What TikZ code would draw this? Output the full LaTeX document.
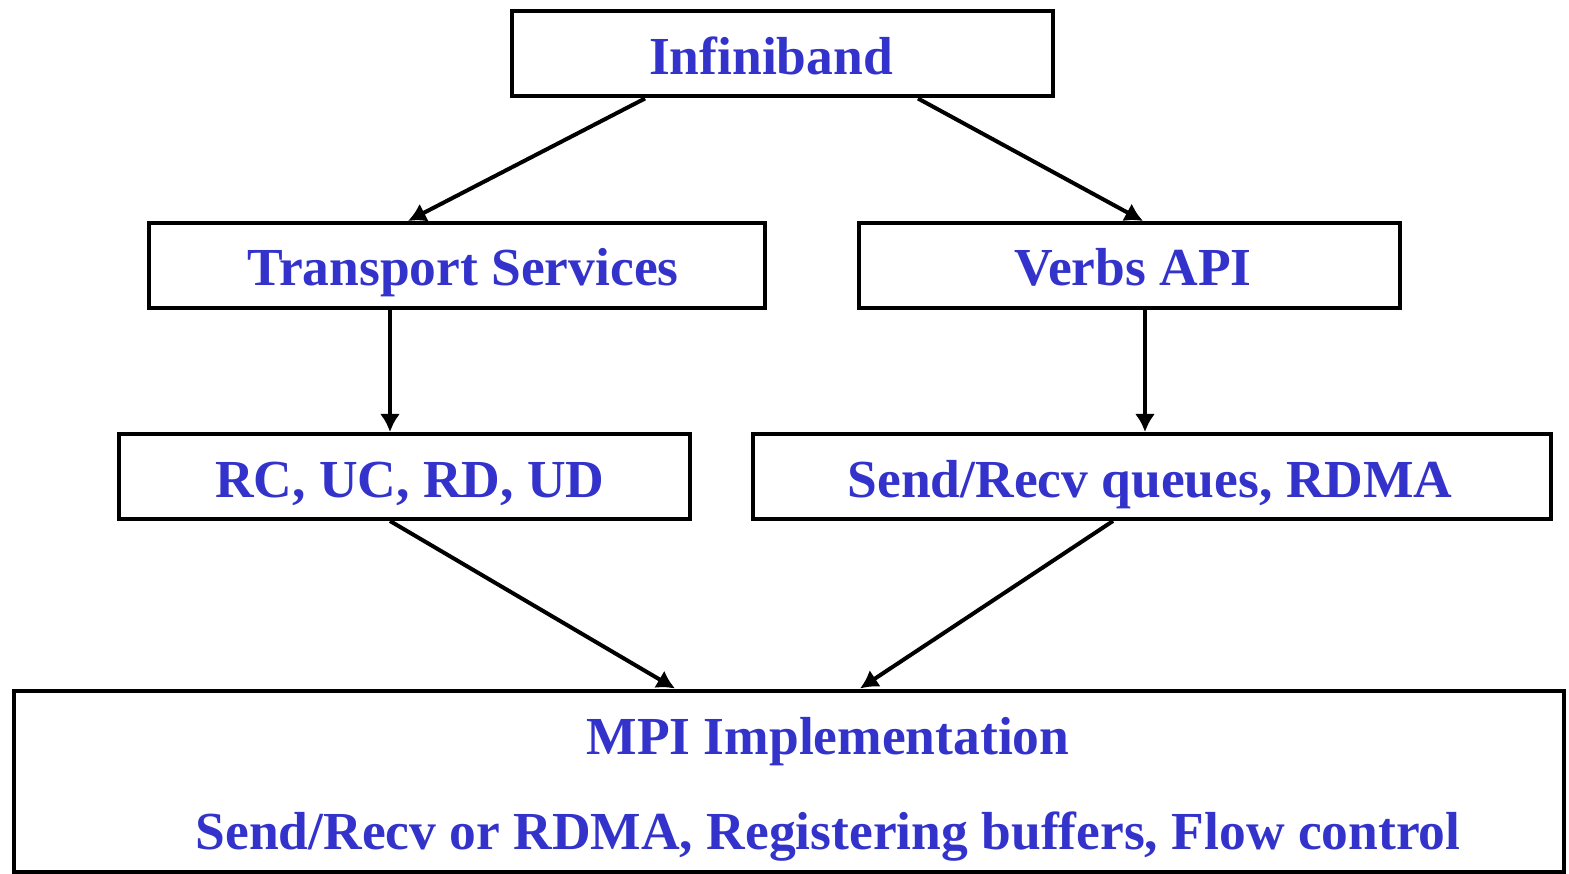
\documentclass[tikz,border=0pt]{standalone}
\usepackage{fontspec}
\setmainfont{Liberation Serif}
\usetikzlibrary{arrows.meta}
\definecolor{txtblue}{HTML}{3333CC}
\begin{document}
\begin{tikzpicture}[x=1pt,y=-1pt,
  box/.style={draw=black,line width=4pt,fill=white,inner sep=0pt},
  lbl/.style={text=txtblue,font=\fontsize{53.5}{56}\selectfont\bfseries,inner sep=0pt,anchor=base},
  arr/.style={line width=4pt,-{Latex[length=18pt,width=20pt]}}]
\useasboundingbox (0,0) rectangle (1569,874);
\fill[white] (0,0) rectangle (1569,874);
% boxes
\node[box,minimum width=541pt,minimum height=85pt] (inf) at (782.5,54) {};
\node[box,minimum width=616pt,minimum height=85pt] (ts) at (457,265.5) {};
\node[box,minimum width=541pt,minimum height=85pt] (vb) at (1129.5,265.5) {};
\node[box,minimum width=571pt,minimum height=85pt] (rc) at (404.5,476.5) {};
\node[box,minimum width=798pt,minimum height=85pt] (sq) at (1152,476.5) {};
\node[box,minimum width=1550pt,minimum height=181pt] (mpi) at (789,781) {};
% labels
\node[lbl] (tinf) at (771,75) {Infiniband};
\node[lbl] (tts) at (463,286) {Transport Services};
\node[lbl] (tvb) at (1133,286) {Verbs API};
\node[lbl] (trc) at (410,497) {RC, UC, RD, UD};
\node[lbl] (tsq) at (1150,497) {Send/Recv queues, RDMA};
\node[lbl] (tmpi) at (828,754) {MPI Implementation};
\node[lbl] (tmpi2) at (828,849) {Send/Recv or RDMA, Registering buffers, Flow control};
% connectors
\draw[arr] ([xshift=-137.5pt]inf.south) -- ([xshift=-49pt]ts.north);
\draw[arr] ([xshift=135.5pt]inf.south) -- ([xshift=13.5pt]vb.north);
\draw[arr] ([xshift=-67pt]ts.south) -- ([xshift=-14.5pt]rc.north);
\draw[arr] ([xshift=15.5pt]vb.south) -- ([xshift=-7pt]sq.north);
\draw[arr] ([xshift=-14.5pt]rc.south) -- ([xshift=-114pt]mpi.north);
\draw[arr] ([xshift=-39pt]sq.south) -- ([xshift=71pt]mpi.north);
\end{tikzpicture}
\end{document}
